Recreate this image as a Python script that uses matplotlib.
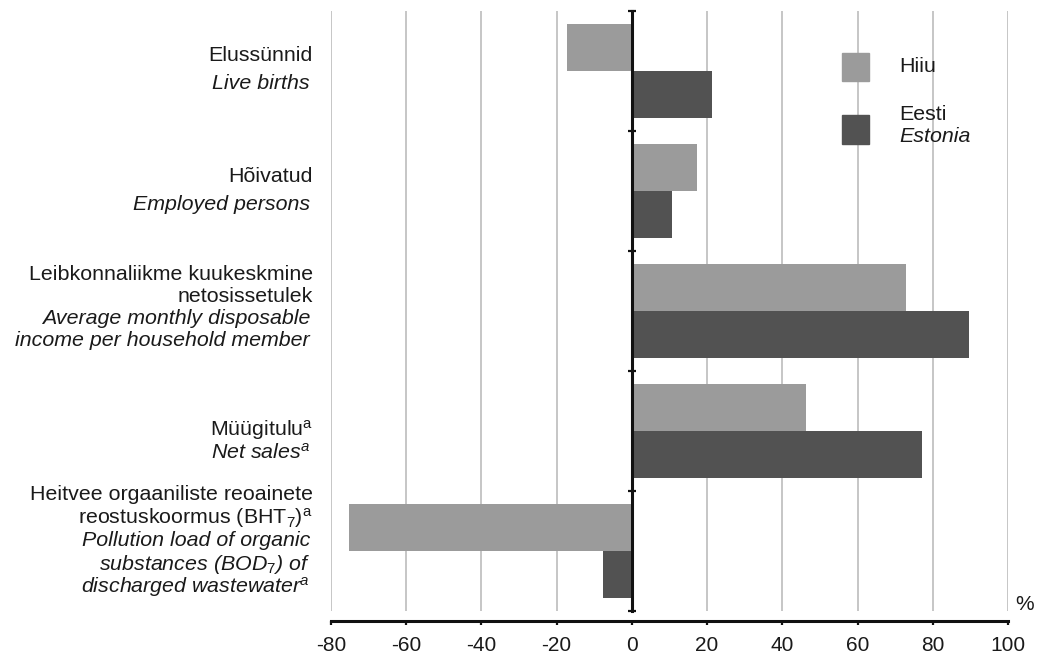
import matplotlib.pyplot as plt
import numpy as np
from matplotlib.patches import Rectangle

plt.rcParams['font.family'] = ['Liberation Sans', 'DejaVu Sans']
plt.rcParams['mathtext.fontset'] = 'custom'
plt.rcParams['mathtext.rm'] = 'Liberation Sans'
plt.rcParams['mathtext.it'] = 'Liberation Sans:italic'
plt.rcParams['mathtext.bf'] = 'Liberation Sans:bold'
plt.rcParams['text.color'] = '#1a1a1a'

# data (% change)
labels_et = ['Elussünnid',
             'Hõivatud',
             'Leibkonnaliikme kuukeskmine\nnetosissetulek',
             'Müügitulu$^\\mathrm{a}$',
             'Heitvee orgaaniliste reoainete\nreostuskoormus (BHT$_\\mathrm{7}$)$^\\mathrm{a}$']
labels_en = ['Live births',
             'Employed persons',
             'Average monthly disposable\nincome per household member',
             'Net sales$^\\mathit{a}$',
             'Pollution load of organic\nsubstances (BOD$_\\mathit{7}$) of\ndischarged wastewater$^\\mathit{a}$']
hiiu = [-17.2, 17.2, 72.9, 46.4, -75.2]
eesti = [21.4, 10.6, 89.6, 77.2, -7.6]
xticks = [-80, -60, -40, -20, 0, 20, 40, 60, 80, 100]
series = ['Hiiu', 'Eesti']
series_en = ['', 'Estonia']

c_hiiu = '#9b9b9b'
c_eesti = '#525252'
fs = 15.4

fig = plt.figure(figsize=(10.45, 6.55), dpi=100)
ax = fig.add_axes([331 / 1045, 44 / 655, 677 / 1045, 600 / 655])

y = np.arange(len(hiiu))
h = 0.39
ax.barh(y - h / 2, hiiu, height=h, color=c_hiiu)
ax.barh(y + h / 2, eesti, height=h, color=c_eesti)

ax.set_ylim(len(y) - 0.5, -0.5)
ax.set_xlim(xticks[0], xticks[-1])
ax.set_xticks(xticks)
ax.set_xticklabels([str(t) for t in xticks])
ax.xaxis.grid(True, color='#bcbcbc', lw=1.2)
ax.set_axisbelow(True)

for s in ['top', 'right']:
    ax.spines[s].set_visible(False)
ax.spines['left'].set_position(('data', 0))
ax.spines['left'].set_linewidth(2.2)
ax.spines['left'].set_color('#111111')
ax.spines['bottom'].set_position(('outward', 7))
ax.spines['bottom'].set_linewidth(2.2)
ax.spines['bottom'].set_color('#111111')

ax.set_yticks(np.arange(-0.5, len(y)))
ax.tick_params(axis='y', direction='inout', length=6, width=1.6, color='#111111', labelleft=False)
ax.tick_params(axis='x', direction='out', length=3, width=1.6, color='#111111',
               labelsize=15, labelcolor='#1a1a1a', pad=8)

# category labels, line by line (regular Estonian, italic English)
line_gap = [28, 27, 22, 23, 23]       # px
block_shift = [-3.5, -2.5, -5, 8.5, -12]  # px
for i in range(len(y)):
    lines = [(t, False) for t in labels_et[i].split('\n')] + \
            [(t, True) for t in labels_en[i].split('\n')]
    n = len(lines)
    for k, (txt, it) in enumerate(lines):
        dy = (k - (n - 1) / 2) * line_gap[i] + block_shift[i] + 7.5
        dx = -21 if it else -18
        ax.annotate(txt, xy=(0, i), xycoords=('axes fraction', 'data'),
                    xytext=(dx * 0.72, -dy * 0.72), textcoords='offset points',
                    ha='right', va='baseline', fontsize=fs,
                    fontstyle='italic' if it else 'normal')

ax.annotate('%', xy=(1, 0), xycoords='axes fraction', xytext=(5, 1),
            textcoords='offset points', ha='left', va='baseline', fontsize=15)

# legend (drawn by hand: second entry carries an English line below)
def ax_x(px):
    return (px - 331) / 677


def ax_y(py):
    return (611 - py) / 600


swatch_top = [52.7, 115]
swatch_h = [28, 29]
text_base = [71.7, 120]
for name, name_en, col, top, hh, base in zip(series, series_en, [c_hiiu, c_eesti],
                                               swatch_top, swatch_h, text_base):
    ax.add_patch(Rectangle((ax_x(842), ax_y(top + hh)), 27 / 677, hh / 600,
                           transform=ax.transAxes, color=col, clip_on=False))
    ax.text(ax_x(899), ax_y(base), name, transform=ax.transAxes,
            ha='left', va='baseline', fontsize=fs)
    if name_en:
        ax.text(ax_x(899), ax_y(base + 21.7), name_en, transform=ax.transAxes,
                ha='left', va='baseline', fontsize=fs, fontstyle='italic')

fig.savefig('out.png', dpi=100)
